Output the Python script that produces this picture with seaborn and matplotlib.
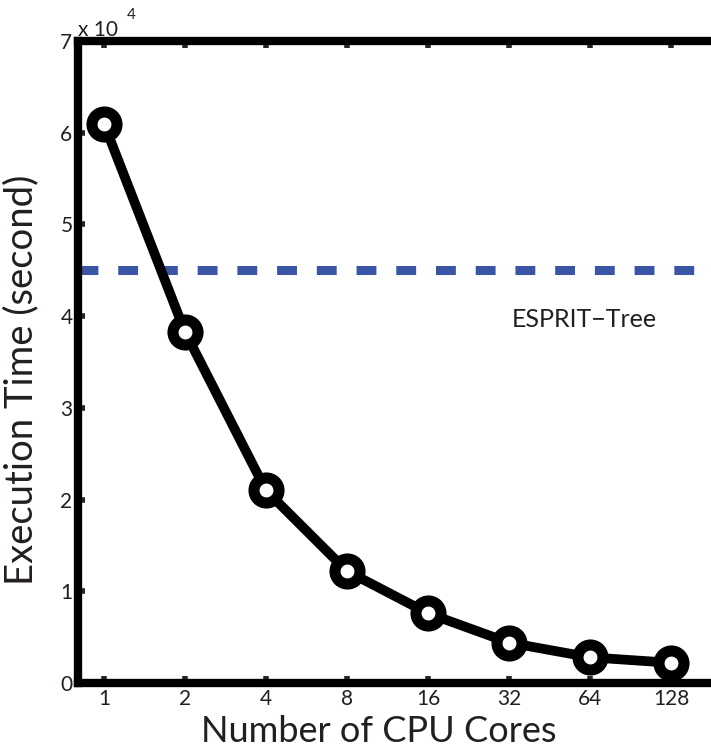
import numpy as np
import pandas as pd
import seaborn as sns
import matplotlib.pyplot as plt

CORES = [1, 2, 4, 8, 16, 32, 64, 128]
EXEC_TIME = [61000, 38300, 21000, 12200, 7600, 4400, 2800, 2200]
ESPRIT_TREE = 45000
Y_TICKS = [0, 1, 2, 3, 4, 5, 6, 7]

sns.set_style("ticks")
plt.rcParams['font.family'] = ['Lato', 'DejaVu Sans']
TXT = '#231f20'

df = pd.DataFrame({"cores": CORES, "time": EXEC_TIME})

fig = plt.figure(figsize=(7.11, 7.51), dpi=100)
# axes runs past the right edge like the cropped original
ax = fig.add_axes([78 / 711, 68 / 751, 700 / 711, 642 / 751])

ax.axhline(ESPRIT_TREE, color='#3a55a5', linewidth=6.5, linestyle=(0, (2.2, 2.2)), zorder=1)

sns.lineplot(data=df, x="cores", y="time", ax=ax, color='black', linewidth=7,
             marker='o', markersize=18, markerfacecolor='white',
             markeredgecolor='black', markeredgewidth=8, zorder=3)

ax.set_xscale('log', base=2)
ax.set_xlim(2 ** -0.32, 2 ** 8.32)
ax.set_ylim(0, 70000)
ax.set_xticks(CORES)
ax.set_xticklabels([str(c) for c in CORES], fontsize=15, color=TXT)
ax.minorticks_off()
ax.set_yticks([t * 1e4 for t in Y_TICKS])
ax.set_yticklabels([str(t) for t in Y_TICKS], fontsize=15, color=TXT)

ax.tick_params(direction='in', length=5, width=4, top=True, right=False, pad=4)
for side in ['left', 'bottom', 'top']:
    ax.spines[side].set_linewidth(6)
    ax.spines[side].set_color('black')
ax.spines['right'].set_visible(False)

ax.set_xlabel('Number of CPU Cores', fontsize=26, color=TXT)
ax.set_ylabel('Execution Time (second)', fontsize=27.5, color=TXT)
ax.xaxis.set_label_coords(301 / 700, -0.05)
ax.yaxis.set_label_coords(-0.056, 0.472)

ax.text(2 ** 5.93, 39600, 'ESPRIT\u2212Tree', fontsize=18, color=TXT,
        ha='center', va='center')

fig.text(78 / 711, 1 - 36 / 751, 'x 10', fontsize=15, color=TXT, ha='left', va='baseline')
fig.text(127 / 711, 1 - 19 / 751, '4', fontsize=11, color=TXT, ha='left', va='baseline')

fig.savefig('out.png', dpi=100)
